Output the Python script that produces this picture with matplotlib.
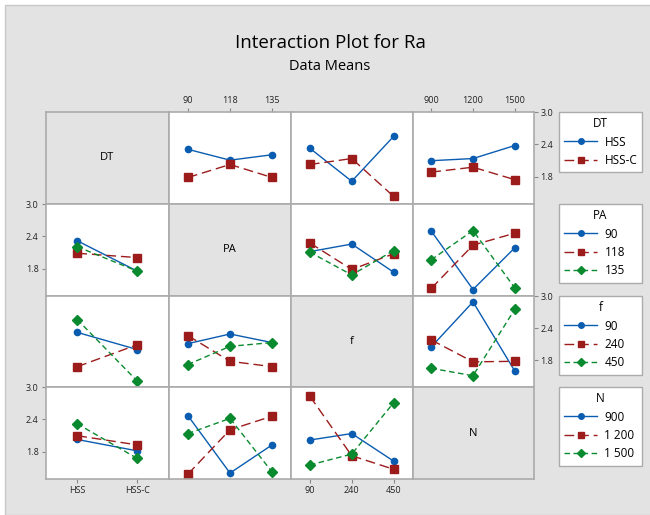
import matplotlib
matplotlib.use("Agg")
import matplotlib.pyplot as plt
from matplotlib.lines import Line2D
from matplotlib.patches import Rectangle

plt.rcParams['font.family'] = ['Open Sans', 'DejaVu Sans']

# factors and their levels
factors = ["DT", "PA", "f", "N"]
levels = {
    "DT": ["HSS", "HSS-C"],
    "PA": ["90", "118", "135"],
    "f": ["90", "240", "450"],
    "N": ["900", "1200", "1500"],
}
legend_labels = {
    "DT": ["HSS", "HSS-C"],
    "PA": ["90", "118", "135"],
    "f": ["90", "240", "450"],
    "N": ["900", "1 200", "1 500"],
}

# mean Ra, one list per trace level (row factor) across the column factor
ra_DT_vs_PA = [[2.31, 2.11, 2.21], [1.79, 2.03, 1.79]]
ra_DT_vs_f = [[2.33, 1.72, 2.55], [2.03, 2.14, 1.44]]
ra_DT_vs_N = [[2.10, 2.14, 2.38], [1.89, 1.98, 1.75]]

ra_PA_vs_DT = [[2.32, 1.76], [2.09, 2.01], [2.21, 1.76]]
ra_PA_vs_f = [[2.12, 2.26, 1.74], [2.28, 1.79, 2.08], [2.11, 1.69, 2.14]]
ra_PA_vs_N = [[2.50, 1.42, 2.19], [1.44, 2.24, 2.46], [1.97, 2.51, 1.45]]

ra_f_vs_DT = [[2.32, 2.00], [1.68, 2.09], [2.56, 1.41]]
ra_f_vs_PA = [[2.11, 2.29, 2.13], [2.26, 1.78, 1.68], [1.72, 2.06, 2.13]]
ra_f_vs_N = [[2.05, 2.89, 1.60], [2.18, 1.77, 1.78], [1.65, 1.51, 2.75]]

ra_N_vs_DT = [[2.03, 1.82], [2.10, 1.93], [2.32, 1.68]]
ra_N_vs_PA = [[2.47, 1.41, 1.93], [1.39, 2.21, 2.46], [2.14, 2.42, 1.43]]
ra_N_vs_f = [[2.02, 2.14, 1.63], [2.83, 1.73, 1.48], [1.56, 1.76, 2.71]]

panels = {
    ("DT", "PA"): ra_DT_vs_PA, ("DT", "f"): ra_DT_vs_f, ("DT", "N"): ra_DT_vs_N,
    ("PA", "DT"): ra_PA_vs_DT, ("PA", "f"): ra_PA_vs_f, ("PA", "N"): ra_PA_vs_N,
    ("f", "DT"): ra_f_vs_DT, ("f", "PA"): ra_f_vs_PA, ("f", "N"): ra_f_vs_N,
    ("N", "DT"): ra_N_vs_DT, ("N", "PA"): ra_N_vs_PA, ("N", "f"): ra_N_vs_f,
}

yticks = [1.8, 2.4, 3.0]
colors = ['#0a5cb0', '#9c1c1c', '#0a8a2e']
markers = ['o', 's', 'D']
msizes = [4.5, 5.5, 5]
dashes = ['-', (0, (7, 3.5)), (0, (4, 2.5))]

W, H = 650, 515
bg = '#e3e3e3'
edge = '#ababab'
col_edges = [45.5, 169, 291, 412.5, 533.5]
row_edges = [112, 204, 296, 387, 479]

fig = plt.figure(figsize=(6.5, 5.15), dpi=100, facecolor='white')
fig.patches.append(Rectangle((5 / W, 0), 1, 1 - 5 / H, transform=fig.transFigure,
                             facecolor=bg, edgecolor='#c8c8c8', lw=1, zorder=-10))

fig.text(330 / W, 1 - 43 / H, "Interaction Plot for Ra", ha='center', va='center',
         fontsize=13.5)
fig.text(330 / W, 1 - 66 / H, "Data Means", ha='center', va='center', fontsize=10.5)

for i, rf in enumerate(factors):
    for j, cf in enumerate(factors):
        x0, x1 = col_edges[j], col_edges[j + 1]
        y0, y1 = row_edges[i], row_edges[i + 1]
        ax = fig.add_axes([x0 / W, 1 - y1 / H, (x1 - x0) / W, (y1 - y0) / H])
        for s in ax.spines.values():
            s.set_color(edge)
            s.set_linewidth(1.2)
        ax.set_ylim(1.3, 3.0)
        n = len(levels[cf])
        pad = 0.53 if n == 2 else 0.45
        ax.set_xlim(-pad, n - 1 + pad)
        ax.set_xticks(range(n))
        ax.set_yticks(yticks)
        ax.tick_params(length=3, width=0.8, color='#888888', labelsize=6.5,
                       pad=2, labelcolor='#222222',
                       bottom=False, top=False, left=False, right=False,
                       labelbottom=False, labeltop=False, labelleft=False,
                       labelright=False)
        if i == j:
            ax.set_facecolor(bg)
            ax.text(0.5, 0.5, rf, transform=ax.transAxes, ha='center',
                    va='center', fontsize=8)
            continue
        ax.set_facecolor('white')
        data = panels[(rf, cf)]
        for k, vals in enumerate(data):
            ax.plot(range(n), vals, color=colors[k], linestyle=dashes[k],
                    lw=1, marker=markers[k], ms=msizes[k], mec=colors[k],
                    mfc=colors[k])
        ax.set_xticklabels(levels[cf])
        # outer tick labels alternate, as in Minitab
        if i == 0 and j % 2 == 1:
            ax.tick_params(top=True, labeltop=True)
        if i == 3 and j % 2 == 0:
            ax.tick_params(bottom=True, labelbottom=True)
        if j == 0 and i % 2 == 1:
            ax.tick_params(left=True, labelleft=True)
        if j == 3 and i % 2 == 0:
            ax.tick_params(right=True, labelright=True)

# legend boxes, one per row factor, all the same width
leg_tops = [112, 204, 296, 387]
for i, rf in enumerate(factors):
    handles = []
    for k, lab in enumerate(legend_labels[rf]):
        handles.append(Line2D([], [], color=colors[k], linestyle=dashes[k], lw=1,
                              marker=markers[k], ms=msizes[k] - 0.5,
                              label=lab))
    leg = fig.legend(handles=handles, title=rf, loc='upper left',
                     bbox_to_anchor=(559 / W, 1 - leg_tops[i] / H, 83 / W, 0),
                     mode='expand',
                     fontsize=8.5, title_fontsize=8.5, frameon=True,
                     fancybox=False, edgecolor=edge, framealpha=1,
                     handlelength=2.8, borderpad=0.45, labelspacing=0.45,
                     handletextpad=0.6, alignment='center', borderaxespad=0)
    leg.get_frame().set_linewidth(1)

fig.savefig("out.png", dpi=100, facecolor=fig.get_facecolor())
